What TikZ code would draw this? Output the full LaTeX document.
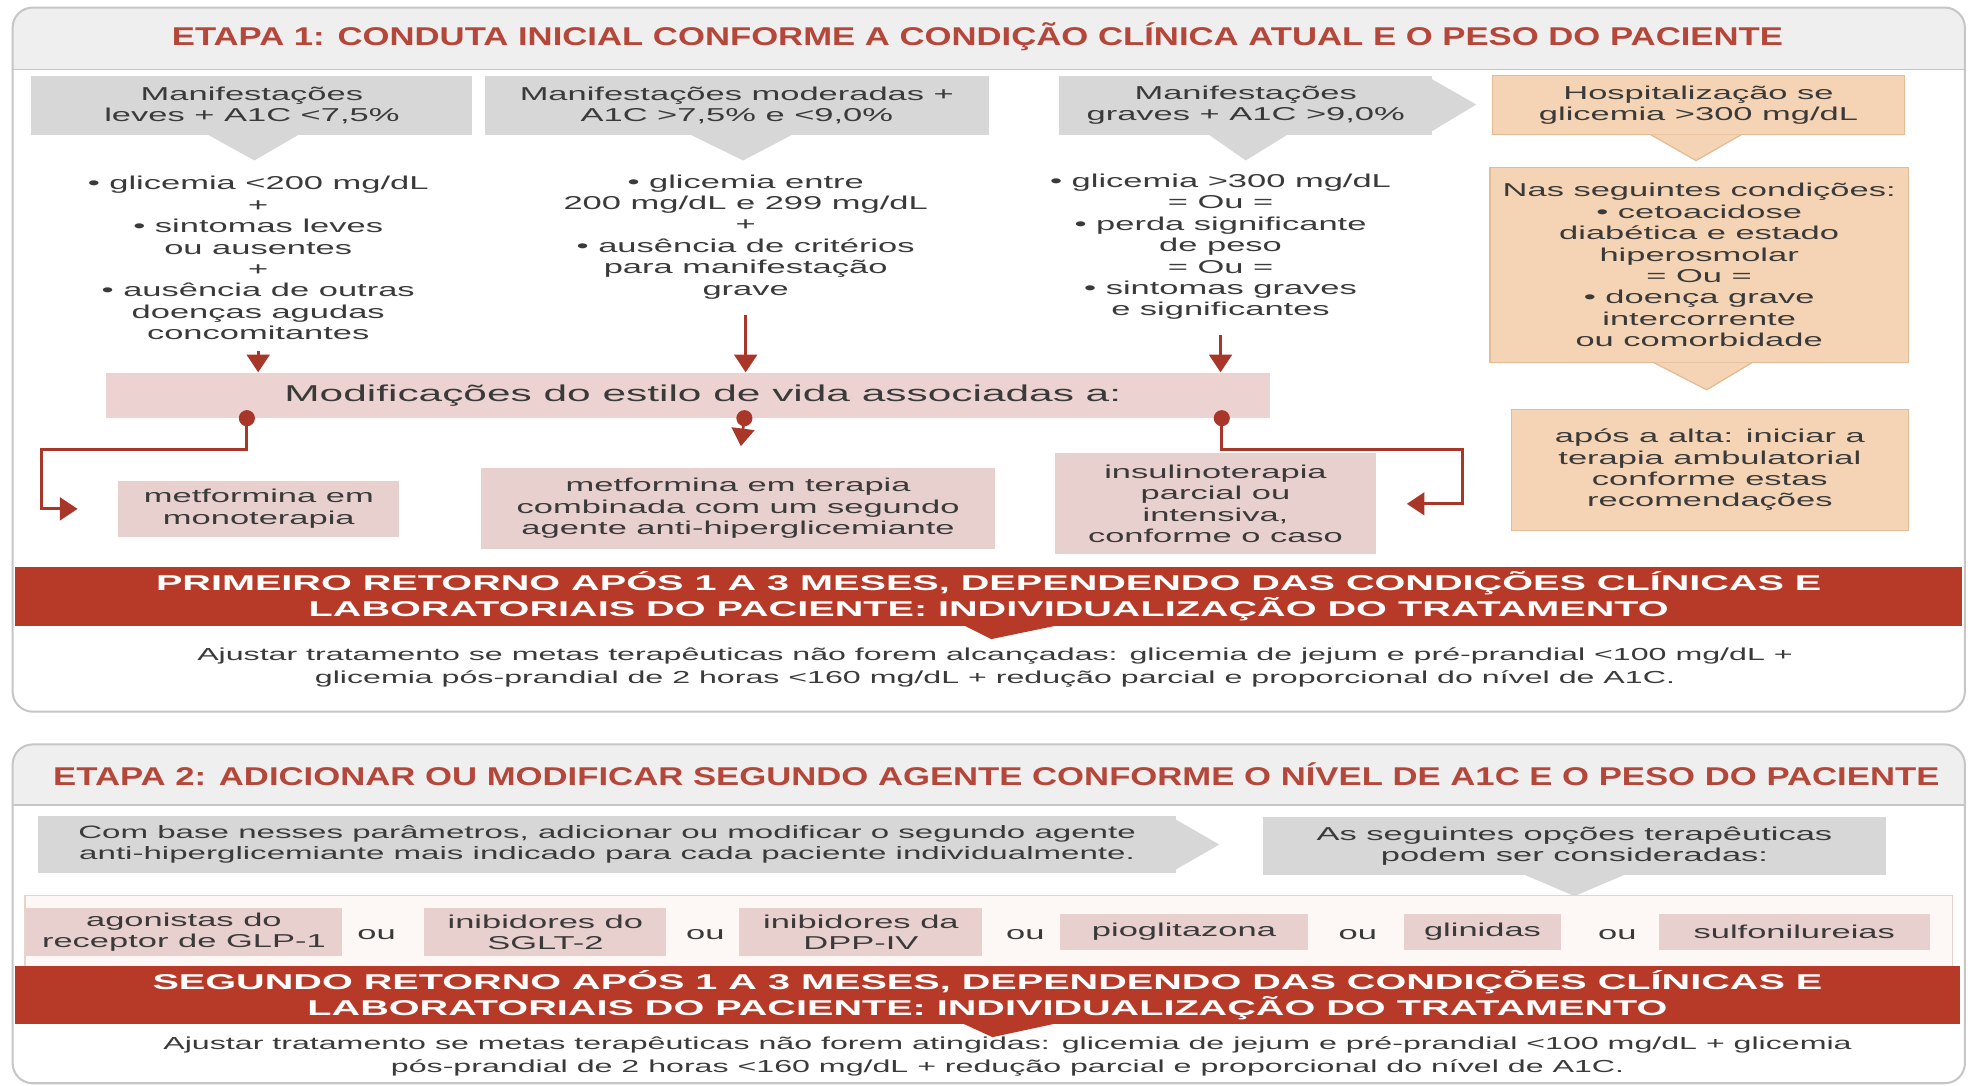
\documentclass[tikz,border=0pt]{standalone}
\usepackage{fontspec}
\setmainfont{Liberation Sans}[FakeStretch=1.85]
\newfontfamily\titlefont{Liberation Sans}[FakeStretch=1.35]
\usetikzlibrary{arrows.meta,calc}
\definecolor{txt}{HTML}{3A3A3A}
\definecolor{titred}{HTML}{B5473A}
\definecolor{bandred}{HTML}{B73A28}
\definecolor{arred}{HTML}{A8372A}
\definecolor{greyb}{HTML}{D7D7D7}
\definecolor{peach}{HTML}{F4D4B4}
\definecolor{peachd}{HTML}{E3BB95}
\definecolor{pinkb}{HTML}{E8D0CF}
\definecolor{pinkband}{HTML}{ECD3D1}
\definecolor{framec}{HTML}{C6C6C6}
\definecolor{titband}{HTML}{EFEFEF}
\definecolor{stripf}{HTML}{FDF8F6}
\definecolor{stripd}{HTML}{E6D3CC}
\begin{document}
\begin{tikzpicture}[x=0.5pt,y=-0.5pt,
  base/.style={align=center,inner sep=0pt,text=txt,font=\fontsize{7.4}{8.5}\selectfont},
  gbox/.style={base,fill=greyb},
  pbox/.style={base,fill=peach,draw=peachd,line width=0.5pt},
  rbox/.style={base,fill=pinkb},
  redband/.style={align=center,inner sep=0pt,fill=bandred,text=white,font=\fontsize{8.5}{8.8}\selectfont\bfseries},
  titletext/.style={inner sep=0pt,text=titred,font=\titlefont\fontsize{10.2}{12}\selectfont\bfseries},
  foot/.style={align=center,inner sep=0pt,text=txt,font=\fontsize{6.9}{9}\selectfont},
  conn/.style={draw=arred,line width=1.1pt},
  tipd/.style={-{Triangle[width=9pt,length=7pt]}},
  framebox/.style={draw=framec,line width=0.8pt,rounded corners=8pt}
]
\useasboundingbox (0,0) rectangle (1568,862);
\fill[white] (0,0) rectangle (1568,862);

% ---------- frame 1 ----------
\begin{scope}
\clip[rounded corners=8pt] (10,6) rectangle (1560,565);
\fill[titband] (10,6) rectangle (1560,55);
\end{scope}
\draw[framec,line width=0.6pt] (10,55) -- (1560,55);
\draw[framebox] (10,6) rectangle (1560,565);
\node[titletext] (t1) at (776,29) {ETAPA 1: CONDUTA INICIAL CONFORME A CONDIÇÃO CLÍNICA ATUAL E O PESO DO PACIENTE};

% top row boxes
\node[gbox,minimum width=175pt,minimum height=23.5pt] (ga) at (200,83.5) {Manifestações\\leves + A1C <7,5\%};
\node[gbox,minimum width=200pt,minimum height=23.5pt] (gb) at (585,83.5) {Manifestações moderadas +\\A1C >7,5\% e <9,0\%};
\node[gbox,minimum width=148pt,minimum height=23.5pt] (gc) at (989,83.5) {Manifestações\\graves + A1C >9,0\%};
\node[pbox,minimum width=163.5pt,minimum height=23.5pt] (gd) at (1348.5,83.5) {Hospitalização se\\glicemia >300 mg/dL};

\fill[greyb] ($(ga.south)+(-36,-1)$) -- ($(ga.south)+(2,20)$) -- ($(ga.south)+(38,-1)$) -- cycle;
\fill[greyb] ($(gb.south)+(-38,-1)$) -- ($(gb.south)+(5,20)$) -- ($(gb.south)+(45,-1)$) -- cycle;
\fill[greyb] ($(gc.south)+(-30,-1)$) -- ($(gc.south)+(0,20)$) -- ($(gc.south)+(34,-1)$) -- cycle;
\fill[greyb] ($(gc.north east)+(-1,3)$) -- (1172,83) -- ($(gc.south east)+(-1,-3)$) -- cycle;
\filldraw[fill=peach,draw=peachd,line width=0.5pt] ($(gd.south)+(-38,-0.6)$) -- ($(gd.south)+(-2,20)$) -- ($(gd.south)+(34,-0.6)$);

% criteria text
\node[base] (colA) at (205,205) {• glicemia <200 mg/dL\\+\\• sintomas leves\\ou ausentes\\+\\• ausência de outras\\doenças agudas\\concomitantes};
\node[base] (colB) at (592,188) {• glicemia entre\\200 mg/dL e 299 mg/dL\\+\\• ausência de critérios\\para manifestação\\grave};
\node[base] (colC) at (969,196) {• glicemia >300 mg/dL\\= Ou =\\• perda significante\\de peso\\= Ou =\\• sintomas graves\\e significantes};

\node[pbox,minimum width=166pt,minimum height=77.5pt] (pe) at (1349,210.5) {Nas seguintes condições:\\• cetoacidose\\diabética e estado\\hiperosmolar\\= Ou =\\• doença grave\\intercorrente\\ou comorbidade};
\filldraw[fill=peach,draw=peachd,line width=0.5pt] ($(pe.south)+(-36,-0.6)$) -- ($(pe.south)+(6,21)$) -- ($(pe.south)+(42,-0.6)$);
\node[pbox,minimum width=157.5pt,minimum height=48pt] (pf) at (1357.5,373) {após a alta: iniciar a\\terapia ambulatorial\\conforme estas\\recomendações};

% lifestyle band
\node[base,fill=pinkband,minimum width=462pt,minimum height=18pt,font=\fontsize{9.1}{10}\selectfont] (band) at (546,314) {\hspace*{12pt}Modificações do estilo de vida associadas a:};

\draw[conn,tipd,shorten <=4pt] (colA.south) -- (colA.south |- band.north);
\draw[conn,tipd,shorten <=6pt] (colB.south) -- (colB.south |- band.north);
\draw[conn,tipd,shorten <=6pt] (colC.south) -- (colC.south |- band.north);

% therapy boxes
\node[rbox,minimum width=111.5pt,minimum height=22pt] (mono) at (205.5,404) {metformina em\\monoterapia};
\node[rbox,minimum width=204pt,minimum height=32pt] (combo) at (586,403.5) {metformina em terapia\\combinada com um segundo\\agente anti-hiperglicemiante};
\node[rbox,minimum width=127.5pt,minimum height=40pt] (insu) at (965,400) {insulinoterapia\\parcial ou\\intensiva,\\conforme o caso};

\coordinate (d1) at (196,332);
\coordinate (d2) at (591,332);
\coordinate (d3) at (970,332);
\coordinate (k1) at (33,357);
\coordinate (k3) at (1161,357);
\draw[conn,tipd,shorten >=16pt] (d1) |- (k1) |- (mono.west);
\draw[conn,tipd,shorten >=8.5pt] (d2) -- (combo.north);
\draw[conn,tipd,shorten >=12pt] (d3) |- (k3) |- (insu.east);
\fill[arred] (d1) circle (3.2pt);
\fill[arred] (d2) circle (3.2pt);
\fill[arred] (d3) circle (3.2pt);

% red band 1
\node[redband,minimum width=773pt,minimum height=23.5pt] (rb1) at (785,473.5) {PRIMEIRO RETORNO APÓS 1 A 3 MESES, DEPENDENDO DAS CONDIÇÕES CLÍNICAS E\\LABORATORIAIS DO PACIENTE: INDIVIDUALIZAÇÃO DO TRATAMENTO};
\fill[bandred] ($(rb1.south)+(-20,-1)$) -- ($(rb1.south)+(2,10)$) -- ($(rb1.south)+(55,-1)$) -- cycle;
\node[foot] (fn1) at (790,530) {Ajustar tratamento se metas terapêuticas não forem alcançadas: glicemia de jejum e pré-prandial <100 mg/dL +\\glicemia pós-prandial de 2 horas <160 mg/dL + redução parcial e proporcional do nível de A1C.};

% ---------- frame 2 ----------
\begin{scope}
\clip[rounded corners=8pt] (10,591) rectangle (1560,860);
\fill[titband] (10,591) rectangle (1560,639);
\end{scope}
\draw[framec,line width=0.6pt] (10,639) -- (1560,639);
\draw[framebox] (10,591) rectangle (1560,860);
\node[titletext] (t2) at (791,615) {ETAPA 2: ADICIONAR OU MODIFICAR SEGUNDO AGENTE CONFORME O NÍVEL DE A1C E O PESO DO PACIENTE};

\node[gbox,minimum width=452pt,minimum height=22.5pt,font=\fontsize{7.1}{8.5}\selectfont] (gg) at (482,670.5) {Com base nesses parâmetros, adicionar ou modificar o segundo agente\\anti-hiperglicemiante mais indicado para cada paciente individualmente.};
\fill[greyb] ($(gg.north east)+(-1,3)$) -- (968,670.5) -- ($(gg.south east)+(-1,-3)$) -- cycle;
\node[gbox,minimum width=247.5pt,minimum height=23pt] (gh) at (1250,672) {As seguintes opções terapêuticas\\podem ser consideradas:};

\draw[draw=stripd,fill=stripf,line width=0.6pt] (20,711) rectangle (1550,775);
\fill[greyb] ($(gh.south)+(-40,-1)$) -- ($(gh.south)+(0,16)$) -- ($(gh.south)+(40,-1)$) -- cycle;

\node[rbox,minimum width=125.5pt,minimum height=19pt] (glp) at (146,740) {agonistas do\\receptor de GLP-1};
\node[base] (ou1) at (299,742) {ou};
\node[rbox,minimum width=96pt,minimum height=19pt] (sglt) at (433,740) {inibidores do\\SGLT-2};
\node[base] (ou2) at (560,742) {ou};
\node[rbox,minimum width=96.5pt,minimum height=19pt] (dpp) at (683.5,740) {inibidores da\\DPP-IV};
\node[base] (ou3) at (814,742) {ou};
\node[rbox,minimum width=98.5pt,minimum height=14pt] (pio) at (940,740) {pioglitazona};
\node[base] (ou4) at (1078,742) {ou};
\node[rbox,minimum width=62pt,minimum height=14pt] (glin) at (1177,740) {glinidas};
\node[base] (ou5) at (1284,742) {ou};
\node[rbox,minimum width=107.5pt,minimum height=14pt] (sulfo) at (1424.5,740) {sulfonilureias};

\node[redband,minimum width=772pt,minimum height=23pt] (rb2) at (784,790) {SEGUNDO RETORNO APÓS 1 A 3 MESES, DEPENDENDO DAS CONDIÇÕES CLÍNICAS E\\LABORATORIAIS DO PACIENTE: INDIVIDUALIZAÇÃO DO TRATAMENTO};
\fill[bandred] ($(rb2.south)+(-20,-1)$) -- ($(rb2.south)+(4,10)$) -- ($(rb2.south)+(55,-1)$) -- cycle;
\node[foot] (fn2) at (800,838.5) {Ajustar tratamento se metas terapêuticas não forem atingidas: glicemia de jejum e pré-prandial <100 mg/dL + glicemia\\pós-prandial de 2 horas <160 mg/dL + redução parcial e proporcional do nível de A1C.};
\end{tikzpicture}
\end{document}
